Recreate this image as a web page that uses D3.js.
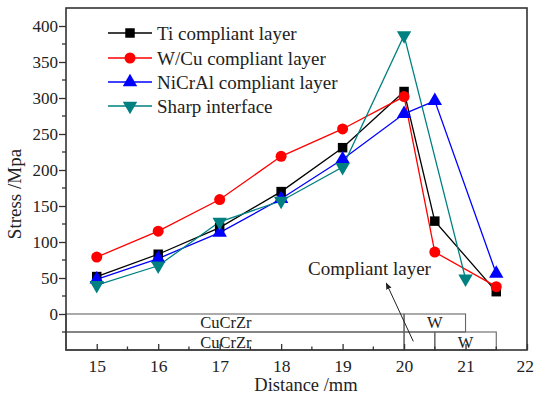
<!DOCTYPE html>
<html>
<head>
<meta charset="utf-8">
<script src="https://cdn.jsdelivr.net/npm/d3@7"></script>
<style>
html,body{margin:0;padding:0;background:#fff;}
svg{display:block;}
text{font-family:"Liberation Serif","Times New Roman",serif;fill:#222;}
</style>
</head>
<body>
<svg id="chart" width="534" height="397"></svg>
<script>
const xTicks = [15,16,17,18,19,20,21,22];
const yTicks = [0,50,100,150,200,250,300,350,400];

const seriesNames = ["Ti compliant layer","W/Cu compliant layer","NiCrAl compliant layer","Sharp interface"];
const seriesColors = ["#000000","#ff0000","#0000ff","#008080"];
const seriesMarkers = ["square","circle","triangle","triangleDown"];

const tiX = [15,16,17,18,19,20,20.5,21.5];
const tiY = [52,83,120,170,231,309,129,31];
const wcuX = [15,16,17,18,19,20,20.5,21.5];
const wcuY = [79,115,159,219,257,302,86,38];
const nicralX = [15,16,17,18,19,20,20.5,21.5];
const nicralY = [48,77,113,160,215,278,296,56];
const sharpX = [15,16,17,18,19,20,21];
const sharpY = [40,67,128,157,204,387,49];

// layer bars (distance units)
const topBarStart = [14.5,20];
const topBarEnd = [20,21];
const topBarLabels = ["CuCrZr","W"];
const botBarStart = [14.5,20,20.5];
const botBarEnd = [20,20.5,21.5];
const botBarLabels = ["CuCrZr","","W"];

const svg = d3.select("#chart");
const L=66, R=527, T=8, B=350;
const x = d3.scaleLinear().domain([14.5,22]).range([L,R]);
const y = d3.scaleLinear().domain([-50,425]).range([B,T]);

const series = [
  {x:tiX,y:tiY},{x:wcuX,y:wcuY},{x:nicralX,y:nicralY},{x:sharpX,y:sharpY}
];

// layer bars
const barColor="#666";
function bar(starts,ends,labels,v0,v1,baseOff){
  starts.forEach((s,i)=>{
    const e=ends[i];
    svg.append("rect").attr("x",x(s)).attr("y",y(v0)).attr("width",x(e)-x(s)).attr("height",y(v1)-y(v0))
      .attr("fill","none").attr("stroke",barColor).attr("stroke-width",1.1);
    if(labels[i]){
      const cx = labels[i]==="CuCrZr" ? x(17.1) : (x(s)+x(e))/2;
      svg.append("text").attr("x",cx).attr("y",y(v1)-baseOff)
        .attr("text-anchor","middle").attr("font-size",16.5).text(labels[i]);
    }
  });
}
bar(topBarStart,topBarEnd,topBarLabels,0,-25,4);
bar(botBarStart,botBarEnd,botBarLabels,-25,-50,2.5);

// frame
svg.append("rect").attr("x",L).attr("y",T).attr("width",R-L).attr("height",B-T)
  .attr("fill","none").attr("stroke","#333").attr("stroke-width",1.6);

// axes
const xAxis = d3.axisBottom(x).tickValues(xTicks).tickSize(-6).tickPadding(10).tickFormat(d3.format("d"));
const gx = svg.append("g").attr("transform",`translate(0,${B})`).call(xAxis);
gx.select(".domain").remove();
gx.selectAll("line").attr("stroke","#333").attr("stroke-width",1.3);
gx.selectAll("text").attr("font-size",17.5).attr("fill","#222").attr("font-family","Liberation Serif, serif");
// keep the last label inside the window
gx.selectAll(".tick").filter(d=>d===22).select("text").attr("text-anchor","end").attr("x",6.5);
const xMinor = [15.5,16.5,17.5,18.5,19.5,20.5,21.5];
svg.append("g").selectAll("line").data(xMinor).join("line")
  .attr("x1",d=>x(d)).attr("x2",d=>x(d)).attr("y1",B).attr("y2",B-3.5).attr("stroke","#333").attr("stroke-width",1.3);

const yAxis = d3.axisLeft(y).tickValues(yTicks).tickSize(7).tickPadding(1).tickFormat(d3.format("d"));
const gy = svg.append("g").attr("transform",`translate(${L},0)`).call(yAxis);
gy.select(".domain").remove();
gy.selectAll("line").attr("stroke","#333").attr("stroke-width",1.3);
gy.selectAll("text").attr("font-size",17).attr("fill","#222").attr("font-family","Liberation Serif, serif");
const yMinor = [-25,25,75,125,175,225,275,325,375];
svg.append("g").selectAll("line").data(yMinor).join("line")
  .attr("x1",L).attr("x2",L-4).attr("y1",d=>y(d)).attr("y2",d=>y(d)).attr("stroke","#333").attr("stroke-width",1.3);

// axis titles
svg.append("text").attr("transform",`translate(21,194) rotate(-90)`).attr("text-anchor","middle")
  .attr("font-size",19).text("Stress /Mpa");
svg.append("text").attr("x",306).attr("y",391).attr("text-anchor","middle").attr("font-size",18.5).text("Distance /mm");

// markers
const sym = {
  square: d3.symbol().type(d3.symbolSquare).size(90),
  circle: d3.symbol().type(d3.symbolCircle).size(95),
  triangle: d3.symbol().type(d3.symbolTriangle).size(90),
  triangleDown: d3.symbol().type(d3.symbolTriangle).size(90)
};
function marker(g,kind,cx,cy,color){
  const p = g.append("path").attr("d",sym[kind]()).attr("fill",color);
  if(kind==="triangleDown") p.attr("transform",`translate(${cx},${cy}) rotate(180)`);
  else p.attr("transform",`translate(${cx},${cy})`);
}

const line = d3.line().x(d=>x(d[0])).y(d=>y(d[1]));
series.forEach((s,i)=>{
  const pts = s.x.map((v,j)=>[v,s.y[j]]);
  svg.append("path").datum(pts).attr("d",line).attr("fill","none").attr("stroke",seriesColors[i]).attr("stroke-width",1.3);
});
series.forEach((s,i)=>{
  const g = svg.append("g");
  s.x.forEach((v,j)=>marker(g,seriesMarkers[i],x(v),y(s.y[j]),seriesColors[i]));
});

// legend
const legY=[33,58,82,106];
seriesNames.forEach((n,i)=>{
  const g=svg.append("g");
  g.append("line").attr("x1",108).attr("x2",152).attr("y1",legY[i]).attr("y2",legY[i]).attr("stroke",seriesColors[i]).attr("stroke-width",1.3);
  marker(g,seriesMarkers[i],130,legY[i],seriesColors[i]);
  g.append("text").attr("x",157).attr("y",legY[i]+6.5).attr("font-size",19).text(n);
});

// annotation
svg.append("text").attr("x",308).attr("y",275).attr("font-size",19).text("Compliant layer");
svg.append("defs").append("marker").attr("id","ah").attr("viewBox","0 0 10 10").attr("refX",9).attr("refY",5)
  .attr("markerWidth",7).attr("markerHeight",7).attr("orient","auto")
  .append("path").attr("d","M0,1 L10,5 L0,9 z").attr("fill","#222");
svg.append("line").attr("x1",x(20.15)).attr("y1",y(-38)).attr("x2",x(19.71)).attr("y2",y(43))
  .attr("stroke","#222").attr("stroke-width",1).attr("marker-end","url(#ah)");
</script>
</body>
</html>
